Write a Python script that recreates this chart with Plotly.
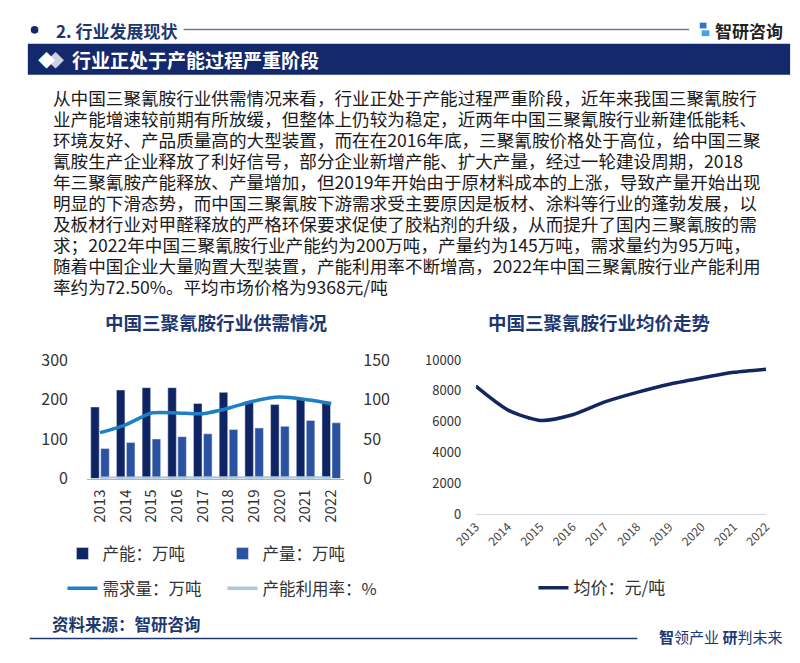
import plotly.graph_objects as go

W, H = 800, 663
def X(px): return px / W
def Y(py): return 1 - py / H

# ---------------- data ----------------
years = ["2013", "2014", "2015", "2016", "2017", "2018", "2019", "2020", "2021", "2022"]
capacity = [181, 224, 230, 230, 190, 218, 195, 187, 200, 193]        # 产能：万吨
production = [76, 91, 100, 106, 113, 124, 128, 132, 147, 141]        # 产量：万吨
demand = [58, 68, 83, 83, 82, 89, 98, 103, 100, 95]                  # 需求量：万吨
utilization = [0.42, 0.41, 0.43, 0.46, 0.59, 0.57, 0.66, 0.71, 0.735, 0.725]  # 产能利用率
price = [8300, 6750, 6080, 6450, 7280, 7900, 8430, 8830, 9200, 9400]  # 均价：元/吨

left_ticks = [0, 100, 200, 300]
right_ticks = [0, 50, 100, 150]
price_ticks = [0, 2000, 4000, 6000, 8000, 10000]

paragraph = [
    "从中国三聚氰胺行业供需情况来看，行业正处于产能过程严重阶段，近年来我国三聚氰胺行",
    "业产能增速较前期有所放缓，但整体上仍较为稳定，近两年中国三聚氰胺行业新建低能耗、",
    "环境友好、产品质量高的大型装置，而在在2016年底，三聚氰胺价格处于高位，给中国三聚",
    "氰胺生产企业释放了利好信号，部分企业新增产能、扩大产量，经过一轮建设周期，2018",
    "年三聚氰胺产能释放、产量增加，但2019年开始由于原材料成本的上涨，导致产量开始出现",
    "明显的下滑态势，而中国三聚氰胺下游需求受主要原因是板材、涂料等行业的蓬勃发展，以",
    "及板材行业对甲醛释放的严格环保要求促使了胶粘剂的升级，从而提升了国内三聚氰胺的需",
    "求；2022年中国三聚氰胺行业产能约为200万吨，产量约为145万吨，需求量约为95万吨，",
    "随着中国企业大量购置大型装置，产能利用率不断增高，2022年中国三聚氰胺行业产能利用",
    "率约为72.50%。平均市场价格为9368元/吨",
]

FONT = "Noto Sans CJK SC, Noto Sans, sans-serif"
NAVY = "#14296b"
TITLE_NAVY = "#1d3870"
TXT = "#1a1a1a"

fig = go.Figure()

fig.add_trace(go.Bar(x=years, y=capacity, name="产能：万吨", marker_color="#0f2463",
                     xaxis="x", yaxis="y", legend="legend"))
fig.add_trace(go.Bar(x=years, y=production, name="产量：万吨", marker_color="#2a52a0",
                     xaxis="x", yaxis="y", legend="legend"))
fig.add_trace(go.Scatter(x=years, y=demand, name="需求量：万吨", mode="lines",
                         line=dict(color="#1f7fc6", width=3.5, shape="spline", smoothing=0.6),
                         xaxis="x", yaxis="y2", legend="legend2"))
fig.add_trace(go.Scatter(x=years, y=utilization, name="产能利用率：%", mode="lines",
                         line=dict(color="#a9c8e0", width=3.5),
                         xaxis="x", yaxis="y2", legend="legend2"))
fig.add_trace(go.Scatter(x=years, y=price, name="均价：元/吨", mode="lines",
                         line=dict(color="#132660", width=3.5, shape="spline", smoothing=0.7),
                         xaxis="x3", yaxis="y3", legend="legend3"))

tickfont = dict(family=FONT, size=16, color="#333333")
legfont = dict(family=FONT, size=16.5, color="#333333")

fig.update_layout(
    width=W, height=H,
    margin=dict(l=0, r=0, t=0, b=0),
    paper_bgcolor="white", plot_bgcolor="rgba(0,0,0,0)",
    font=dict(family=FONT, color=TXT),
    barmode="group", bargap=0.22, bargroupgap=0.15,
    xaxis=dict(domain=[X(65.7), X(333)], anchor="y", type="category",
               tickangle=-90, tickfont=dict(family=FONT, size=15, color="#333333"),
               ticks="outside", ticklen=4, tickcolor="rgba(0,0,0,0)",
               showline=True, linecolor="#9fb4d6", linewidth=1, showgrid=False),
    yaxis=dict(domain=[Y(483), Y(360)], anchor="x", range=[0, 300],
               tickvals=left_ticks, tickfont=tickfont, showgrid=False,
               zeroline=False, ticks="outside", ticklen=15, tickcolor="rgba(0,0,0,0)"),
    yaxis2=dict(overlaying="y", side="right", anchor="x", range=[0, 150],
                tickvals=right_ticks, tickfont=tickfont, showgrid=False,
                zeroline=False, ticks="outside", ticklen=15, tickcolor="rgba(0,0,0,0)"),
    xaxis3=dict(domain=[X(470), X(772)], anchor="y3", type="category",
                tickangle=-45, tickfont=dict(family=FONT, size=12, color="#444444"),
                ticks="",
                showline=True, linecolor="#d3d8e0", linewidth=1, showgrid=False),
    yaxis3=dict(domain=[Y(520), Y(360)], anchor="x3", range=[0, 10000],
                tickvals=price_ticks, tickformat="d",
                tickfont=dict(family=FONT, size=13, color="#333333"),
                showgrid=False, zeroline=False, ticks="outside", ticklen=11,
                tickcolor="rgba(0,0,0,0)"),
    legend=dict(orientation="h", x=X(40), y=Y(543), xanchor="left", yanchor="top",
                entrywidth=115, font=legfont,
                bgcolor="rgba(0,0,0,0)", traceorder="normal"),
    legend2=dict(orientation="h", x=X(40), y=Y(579), xanchor="left", yanchor="top",
                 entrywidth=115, font=legfont,
                 bgcolor="rgba(0,0,0,0)", traceorder="normal"),
    legend3=dict(orientation="h", x=X(530), y=Y(578), xanchor="left", yanchor="top",
                 font=dict(family=FONT, size=17, color="#333333"),
                 bgcolor="rgba(0,0,0,0)"),
    showlegend=True,
)

shapes = []
annots = []

# header
shapes.append(dict(type="circle", xref="paper", yref="paper",
                   x0=X(7), x1=X(15), y0=Y(21.5), y1=Y(13.5), fillcolor=NAVY, line_width=0))
annots.append(dict(x=X(31), y=Y(18), xref="paper", yref="paper", xanchor="left", yanchor="middle",
                   text="<b>2. 行业发展现状</b>", showarrow=False,
                   font=dict(family=FONT, size=17, color=TITLE_NAVY)))
shapes.append(dict(type="line", xref="paper", yref="paper", x0=X(166), x1=X(692),
                   y0=Y(17), y1=Y(17), line=dict(color="#6b7890", width=1.5)))
shapes.append(dict(type="rect", xref="paper", yref="paper", x0=X(703), x1=X(710),
                   y0=Y(16), y1=Y(10), fillcolor="#2f73d0", line_width=0))
shapes.append(dict(type="rect", xref="paper", yref="paper", x0=X(705), x1=X(713),
                   y0=Y(24), y1=Y(18), fillcolor="#44a3e0", line_width=0))
annots.append(dict(x=X(717), y=Y(18), xref="paper", yref="paper", xanchor="left", yanchor="middle",
                   text="<b>智研咨询</b>", showarrow=False,
                   font=dict(family=FONT, size=17, color="#222222")))

# banner
shapes.append(dict(type="rect", xref="paper", yref="paper", x0=X(4), x1=X(797),
                   y0=Y(64), y1=Y(32), fillcolor=NAVY, line_width=0, layer="below"))
annots.append(dict(x=X(33), y=Y(48), xref="paper", yref="paper", xanchor="center", yanchor="middle",
                   text="◆", showarrow=False, font=dict(family=FONT, size=17, color="#c9d3e6")))
annots.append(dict(x=X(23), y=Y(48), xref="paper", yref="paper", xanchor="center", yanchor="middle",
                   text="◆", showarrow=False, font=dict(family=FONT, size=17, color="#ffffff")))
annots.append(dict(x=X(48), y=Y(48), xref="paper", yref="paper", xanchor="left", yanchor="middle",
                   text="<b>行业正处于产能过程严重阶段</b>", showarrow=False,
                   font=dict(family=FONT, size=19, color="#ffffff")))

# paragraph
for i, line in enumerate(paragraph):
    annots.append(dict(x=X(28), y=Y(88 + i * 21.8), xref="paper", yref="paper",
                       xanchor="left", yanchor="middle", text=line, showarrow=False,
                       font=dict(family=FONT, size=17.6, color=TXT)))

# chart titles
annots.append(dict(x=X(200), y=Y(321), xref="paper", yref="paper", xanchor="center", yanchor="middle",
                   text="<b>中国三聚氰胺行业供需情况</b>", showarrow=False,
                   font=dict(family=FONT, size=18.5, color=TITLE_NAVY)))
annots.append(dict(x=X(598), y=Y(321), xref="paper", yref="paper", xanchor="center", yanchor="middle",
                   text="<b>中国三聚氰胺行业均价走势</b>", showarrow=False,
                   font=dict(family=FONT, size=18.5, color=TITLE_NAVY)))

# footer
annots.append(dict(x=X(27), y=Y(634), xref="paper", yref="paper", xanchor="left", yanchor="middle",
                   text="<b>资料来源：智研咨询</b>", showarrow=False,
                   font=dict(family=FONT, size=16.5, color=TITLE_NAVY)))
shapes.append(dict(type="line", xref="paper", yref="paper", x0=X(6), x1=X(638),
                   y0=Y(649), y1=Y(649), line=dict(color="#1d3870", width=1.5)))
annots.append(dict(x=X(658), y=Y(647), xref="paper", yref="paper", xanchor="left", yanchor="middle",
                   text="<b>智</b>领产业 <b>研</b>判未来", showarrow=False,
                   font=dict(family=FONT, size=15, color=TITLE_NAVY)))

fig.update_layout(shapes=shapes, annotations=annots)

fig.write_html("out.html", config={"displayModeBar": False},
               post_script="document.body.style.margin='0';document.documentElement.style.margin='0';document.body.style.overflow='hidden';")
